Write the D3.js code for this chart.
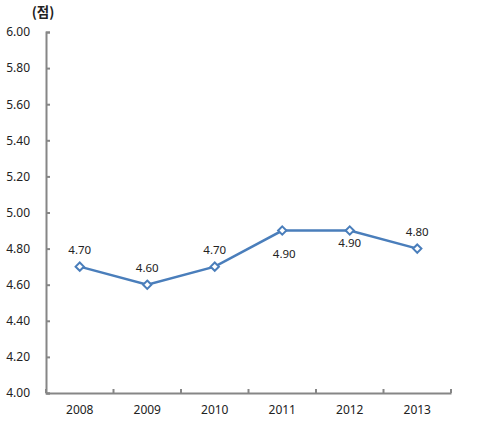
<!DOCTYPE html>
<html><head><meta charset="utf-8">
<script src="https://cdn.jsdelivr.net/npm/d3@7"></script>
<style>body{margin:0;background:#fff}</style>
</head><body>
<svg id="c" width="480" height="428"></svg>
<script>
const years = ["2008","2009","2010","2011","2012","2013"];
const values = [4.70, 4.60, 4.70, 4.90, 4.90, 4.80];
const yTicks = [4.00,4.20,4.40,4.60,4.80,5.00,5.20,5.40,5.60,5.80,6.00];
const labelPos = ["above","above","above","below","below","above"];
const unitLabel = "(점)";

const svg = d3.select("#c");
const L = 46, R = 451, T = 32, B = 393;
const x = d3.scaleBand().domain(years).range([L, R]);
const y = d3.scaleLinear().domain([4, 6]).range([B, T]);
const font = "'Noto Sans', 'Noto Sans CJK KR', sans-serif";
const axisColor = "#868686";

// y axis
const ya = svg.append("g").attr("transform", `translate(${L},0)`)
  .call(d3.axisLeft(y).tickValues(yTicks).tickFormat(d3.format(".2f")).tickSize(-4).tickPadding(16));
ya.select(".domain").attr("stroke", axisColor).attr("stroke-width", 2);
ya.selectAll(".tick line").attr("stroke", axisColor).attr("stroke-width", 2);
ya.selectAll(".tick text").attr("font-family", font).attr("font-size", 12).attr("fill", "#222");

// x axis
const xa = svg.append("g").attr("transform", `translate(0,${B})`)
  .call(d3.axisBottom(x).tickSize(0).tickPadding(12));
xa.select(".domain").attr("stroke", axisColor).attr("stroke-width", 2);
xa.selectAll(".tick text").attr("font-family", font).attr("font-size", 12).attr("fill", "#222");
// boundary ticks
const bounds = years.map(d => x(d)).concat([x(years[years.length-1]) + x.bandwidth()]);
xa.selectAll(".btick").data(bounds).enter().append("line")
  .attr("x1", d => d).attr("x2", d => d).attr("y1", 0).attr("y2", -4)
  .attr("stroke", axisColor).attr("stroke-width", 2);

// unit label
svg.append("text").attr("x", 43).attr("y", 17).attr("text-anchor", "middle")
  .attr("font-family", "'Noto Sans CJK KR', sans-serif").attr("font-weight", "bold")
  .attr("font-size", 13.5).attr("fill", "#222").text(unitLabel);

const cx = d => x(d) + x.bandwidth() / 2;
const line = d3.line().x((d, i) => cx(years[i])).y(d => y(d));
svg.append("path").datum(values).attr("d", line)
  .attr("fill", "none").attr("stroke", "#4a7ebb").attr("stroke-width", 2.5);

svg.selectAll(".pt").data(values).enter().append("path")
  .attr("d", d3.symbol().type(d3.symbolDiamond2).size(44))
  .attr("transform", (d, i) => `translate(${cx(years[i])},${y(d)})`)
  .attr("fill", "#fff").attr("stroke", "#4a7ebb").attr("stroke-width", 2);

svg.selectAll(".lbl").data(values).enter().append("text")
  .attr("x", (d, i) => cx(years[i]) + (i === 3 ? 2 : 0))
  .attr("y", (d, i) => y(d) + (labelPos[i] === "above" ? -13 : (i === 3 ? 27 : 16)))
  .attr("text-anchor", "middle").attr("font-family", font).attr("font-size", 11.5)
  .attr("fill", "#222").text(d => d.toFixed(2));
</script>
</body></html>
